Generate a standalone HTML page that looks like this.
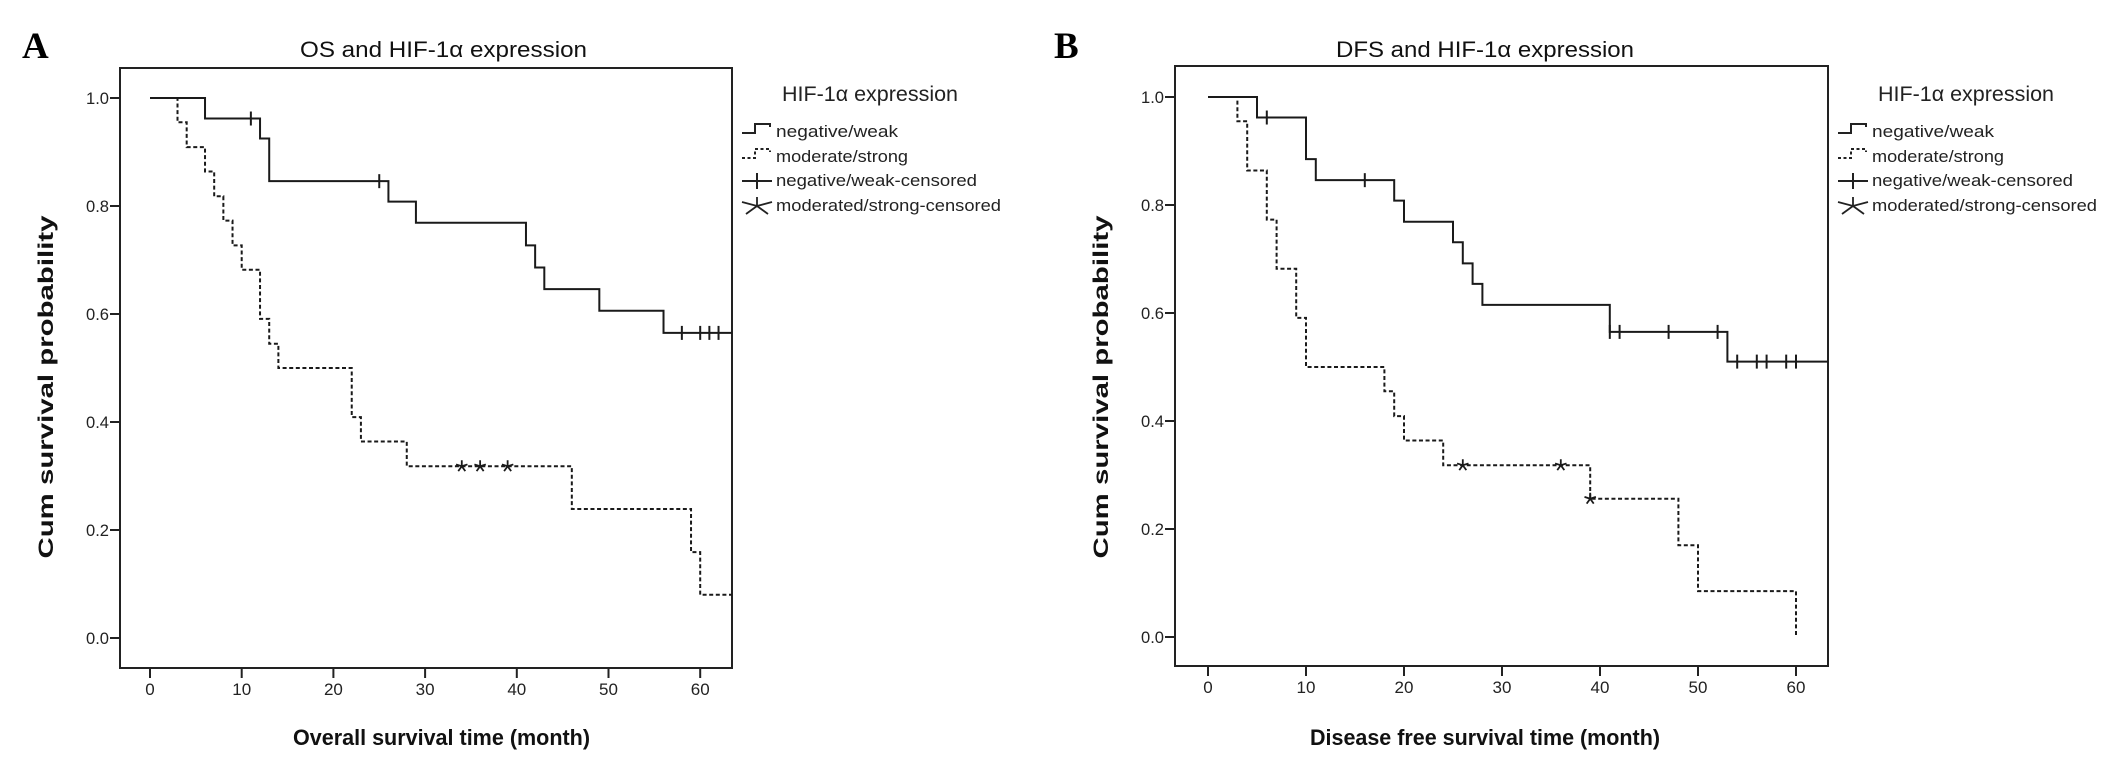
<!DOCTYPE html>
<html><head><meta charset="utf-8"><style>
html,body{margin:0;padding:0;background:#fff;}
svg{display:block;font-family:"Liberation Sans",Arial,sans-serif;}
</style></head><body>
<svg id="fig" width="2126" height="763" viewBox="0 0 2126 763" xmlns="http://www.w3.org/2000/svg"></svg>
<script>
// ---- Panel A: OS data ----
const osWeakTimes=[6,12,13,26,29,41,42,43,49,56];
const osWeakSurv=[0.962,0.925,0.846,0.808,0.769,0.727,0.686,0.646,0.606,0.565];
const osWeakCensor=[11,25,58,60,61,62];
const osStrongTimes=[3,4,6,7,8,9,10,12,13,14,22,23,28,46,59,60];
const osStrongSurv=[0.955,0.909,0.864,0.818,0.773,0.727,0.682,0.591,0.545,0.5,0.409,0.364,0.318,0.239,0.159,0.080];
const osStrongCensor=[34,36,39];
// ---- Panel B: DFS data ----
const dfsWeakTimes=[5,10,11,19,20,25,26,27,28,41,53];
const dfsWeakSurv=[0.962,0.885,0.846,0.808,0.769,0.731,0.692,0.654,0.615,0.565,0.51];
const dfsWeakCensor=[6,16,41,42,47,52,54,56,57,59,60];
const dfsStrongTimes=[3,4,6,7,9,10,18,19,20,24,39,48,50,60];
const dfsStrongSurv=[0.955,0.864,0.773,0.682,0.591,0.5,0.455,0.409,0.364,0.318,0.256,0.17,0.085,0.0];
const dfsStrongCensor=[26,36,39];
// ---- ticks ----
const xTicks=[0,10,20,30,40,50,60];
const yTicks=[0,0.2,0.4,0.6,0.8,1.0];
const yTickLabels=["0.0","0.2","0.4","0.6","0.8","1.0"];
const legendLabels=["negative/weak","moderate/strong","negative/weak-censored","moderated/strong-censored"];

const NS="http://www.w3.org/2000/svg";
const svg=document.getElementById('fig');
function el(tag,attrs,parent,text){
  const e=document.createElementNS(NS,tag);
  for(const k in attrs)e.setAttribute(k,attrs[k]);
  if(text!==undefined)e.textContent=text;
  (parent||svg).appendChild(e);return e;
}
function survAt(times,surv,t){let s=1;for(let i=0;i<times.length;i++){if(times[i]<=t)s=surv[i];}return s;}

function panel(cfg){
  const g=el('g',{});
  
  
  const X=t=>cfg.x0+cfg.pxm*t, Y=s=>cfg.y0-cfg.pxu*s;
  const tEnd=(cfg.right-cfg.x0)/cfg.pxm;
  // box
  const box=el('rect',{x:cfg.left,y:cfg.top,width:cfg.right-cfg.left,height:cfg.bottom-cfg.top,fill:'none',stroke:'#222','stroke-width':2},g);
  
  
  // y ticks
  yTicks.forEach((v,i)=>{
    el('line',{x1:cfg.left-10,x2:cfg.left,y1:Y(v),y2:Y(v),stroke:'#222','stroke-width':2},g);
    const tl=el('text',{x:cfg.left-11,y:Y(v)+6,'text-anchor':'end','font-size':17,fill:'#222',textLength:23,lengthAdjust:'spacingAndGlyphs'},g,yTickLabels[i]);
    
    
  });
  xTicks.forEach(v=>{
    el('line',{x1:X(v),x2:X(v),y1:cfg.bottom,y2:cfg.bottom+10,stroke:'#222','stroke-width':2},g);
    const tl=el('text',{x:X(v),y:cfg.bottom+27,'text-anchor':'middle','font-size':17,fill:'#222'},g,String(v));
    
    
  });
  // curves
  function curve(times,surv,dashed,name,endT){
    let d='M'+X(0)+' '+Y(1);
    let last=1;
    times.forEach((t,i)=>{d+=' H'+X(t)+' V'+Y(surv[i]);last=surv[i];});
    if(last>0)d+=' H'+X(endT);
    const p=el('path',{d:d,fill:'none',stroke:'#1a1a1a','stroke-width':dashed?2:2,'stroke-dasharray':dashed?'4 2.6':'none'},g);
    
    
  }
  curve(cfg.sT,cfg.sS,true,'moderate-strong-curve',tEnd);
  curve(cfg.wT,cfg.wS,false,'negative-weak-curve',tEnd);
  cfg.wC.forEach(t=>{
    const x=X(t),y=Y(survAt(cfg.wT,cfg.wS,t));
    const c=el('line',{x1:x,x2:x,y1:y-7,y2:y+7,stroke:'#1a1a1a','stroke-width':2},g);
    
    
  });
  cfg.sC.forEach(t=>{
    const x=X(t),y=Y(survAt(cfg.sT,cfg.sS,t));
    let d='';
    for(let k=0;k<5;k++){const a=-Math.PI/2+k*2*Math.PI/5;d+='M'+x+' '+y+' L'+(x+6*Math.cos(a))+' '+(y+6*Math.sin(a))+' ';}
    const c=el('path',{d:d,stroke:'#1a1a1a','stroke-width':1.8,fill:'none'},g);
    
    
  });
  // titles
  const tt=el('text',{x:cfg.titleX,y:57,'font-size':22,fill:'#111',textLength:cfg.titleW,lengthAdjust:'spacingAndGlyphs'},g,cfg.title);
  
  
  const xt=el('text',{x:cfg.xtX,y:745,'font-size':22,'font-weight':'bold',fill:'#111',textLength:cfg.xtW,lengthAdjust:'spacingAndGlyphs'},g,cfg.xTitle);
  
  
  const yc=cfg.left-74;
  const yt=el('text',{x:0,y:0,'font-size':21,'font-weight':'bold',fill:'#111','text-anchor':'middle',textLength:343,lengthAdjust:'spacingAndGlyphs',transform:'translate('+(yc+7)+',387) rotate(-90)'},g,'Cum survival probability');
  
  
  const pl=el('text',{x:cfg.labelX,y:58,'font-size':37,'font-weight':'bold','font-family':'"Liberation Serif",serif',fill:'#000'},g,cfg.label);
  
  
  // legend
  const lg=el('g',{},g);
  
  
  const lx=cfg.right+10;
  const lt=el('text',{x:lx+40,y:101,'font-size':21,fill:'#222',textLength:176,lengthAdjust:'spacingAndGlyphs'},lg,'HIF-1α expression');
  
  
  const ys=[137,162,186,211];
  const widths=[122,132,201,225];
  legendLabels.forEach((lab,i)=>{
    const e=el('g',{},lg);
    
    
    const y=ys[i]-5;
    if(i<2){
      el('path',{d:'M'+lx+' '+(y+1)+' H'+(lx+13)+' V'+(y-8)+' H'+(lx+28)+' V'+(y-5),fill:'none',stroke:'#222','stroke-width':2,'stroke-dasharray':i==1?'3 2.5':'none'},e);
    }else if(i==2){
      el('line',{x1:lx,x2:lx+30,y1:y,y2:y,stroke:'#222','stroke-width':2},e);
      el('line',{x1:lx+15,x2:lx+15,y1:y-8,y2:y+8,stroke:'#222','stroke-width':2},e);
    }else{
      el('path',{d:'M'+lx+' '+(y-4)+' L'+(lx+15)+' '+y+' L'+(lx+30)+' '+(y-4)+' M'+(lx+15)+' '+(y-9)+' V'+y+' M'+(lx+4)+' '+(y+8)+' L'+(lx+15)+' '+y+' L'+(lx+26)+' '+(y+8),fill:'none',stroke:'#222','stroke-width':1.8},e);
    }
    el('text',{x:lx+34,y:ys[i],'font-size':17,fill:'#222',textLength:widths[i],lengthAdjust:'spacingAndGlyphs'},e,lab);
  });
}

panel({id:'os',x0:150,pxm:9.17,y0:638,pxu:540,left:120,right:732,top:68,bottom:668,
  wT:osWeakTimes,wS:osWeakSurv,wC:osWeakCensor,sT:osStrongTimes,sS:osStrongSurv,sC:osStrongCensor,
  title:'OS and HIF-1α expression',titleX:300,titleW:287,xTitle:'Overall survival time (month)',xtX:293,xtW:297,label:'A',labelX:22});
panel({id:'dfs',x0:1208,pxm:9.8,y0:637,pxu:540,left:1175,right:1828,top:66,bottom:666,
  wT:dfsWeakTimes,wS:dfsWeakSurv,wC:dfsWeakCensor,sT:dfsStrongTimes,sS:dfsStrongSurv,sC:dfsStrongCensor,
  title:'DFS and HIF-1α expression',titleX:1336,titleW:298,xTitle:'Disease free survival time (month)',xtX:1310,xtW:350,label:'B',labelX:1054});
</script>
</body></html>
